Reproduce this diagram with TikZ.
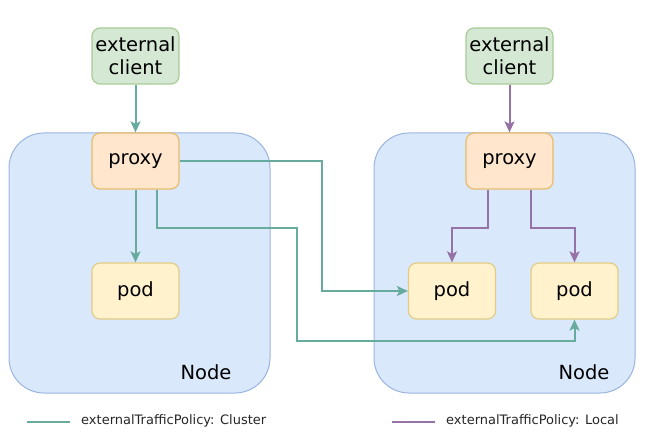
\documentclass[tikz,border=0pt]{standalone}
\usepackage{fontspec}
\setmainfont{DejaVu Sans}
\usetikzlibrary{arrows.meta}
\definecolor{clteal}{HTML}{67AB9F}
\definecolor{clpurple}{HTML}{9673A6}
\definecolor{nodefill}{HTML}{DAE8FC}
\definecolor{nodedraw}{HTML}{9AB4DE}
\definecolor{extfill}{HTML}{D5E8D4}
\definecolor{extdraw}{HTML}{A8CC96}
\definecolor{pxfill}{HTML}{FFE6CC}
\definecolor{pxdraw}{HTML}{E8BC6A}
\definecolor{podfill}{HTML}{FFF2CC}
\definecolor{poddraw}{HTML}{E3CC86}
\tikzset{
  hostbox/.style={draw=nodedraw, fill=nodefill, line width=1pt, rounded corners=35pt, minimum width=261pt, minimum height=260pt, inner sep=0pt},
  smallbox/.style={line width=1.2pt, rounded corners=8pt, minimum width=87pt, minimum height=56pt, inner sep=0pt, align=center, font=\fontsize{19.5}{23}\selectfont},
  extbox/.style={smallbox, draw=extdraw, fill=extfill},
  pxbox/.style={smallbox, draw=pxdraw, fill=pxfill},
  podbox/.style={smallbox, draw=poddraw, fill=podfill},
  hostlabel/.style={font=\fontsize{19.5}{22}\selectfont, inner sep=0pt},
  tealline/.style={draw=clteal, line width=2pt},
  purpline/.style={draw=clpurple, line width=2pt},
  tealarrow/.style={tealline, -{Stealth[length=11pt,width=10pt,inset=2.5pt]}},
  purparrow/.style={purpline, -{Stealth[length=11pt,width=10pt,inset=2.5pt]}},
  legendtext/.style={anchor=west, inner sep=0pt, font=\fontsize{13}{15}\selectfont, text=black!85}
}
\begin{document}
\begin{tikzpicture}[x=1pt, y=-1pt]
\useasboundingbox (0,0) rectangle (650,435);
% host nodes
\node[hostbox] (hostL) at (139.5,263) {};
\node[hostbox] (hostR) at (504.5,263) {};
\node[hostlabel] (labL) at (206,372) {Node};
\node[hostlabel] (labR) at (584,372) {Node};
% small boxes
\node[extbox] (c1) at (135.5,56) {external\\client};
\node[extbox] (c2) at (509.5,56) {external\\client};
\node[pxbox] (p1) at (135.5,161) {proxy};
\node[pxbox] (p2) at (509.5,161) {proxy};
\node[podbox] (pod1) at (135.5,291) {pod};
\node[podbox] (pod2) at (452,291) {pod};
\node[podbox] (pod3) at (574.5,291) {pod};
% cluster policy paths
\coordinate (t1) at (297,228);
\coordinate (t2) at (297,341);
\coordinate (t3) at (322,291);
\draw[tealarrow] (c1) -- (p1);
\draw[tealarrow] (p1) -- (pod1);
\draw[tealarrow] ([xshift=21.5pt]p1.south) |- (t1) -- (t2) -| (pod3.south);
\draw[tealarrow] (p1.east) -| (t3) -- (pod2.west);
% local policy paths
\draw[purparrow] (c2) -- (p2);
\draw[purparrow] ([xshift=-21.5pt]p2.south) -- ++(0,38) -| (pod2.north);
\draw[purparrow] ([xshift=21.5pt]p2.south) -- ++(0,38) -| (pod3.north);
% legend
\coordinate (la) at (27,422);
\coordinate (lb) at (70,422);
\coordinate (lc) at (392,422);
\coordinate (ld) at (435,422);
\draw[tealline] (la) -- (lb);
\draw[purpline] (lc) -- (ld);
\node[legendtext] (lt1) at (81,421) {externalTrafficPolicy: Cluster};
\node[legendtext] (lt2) at (446,421) {externalTrafficPolicy: Local};
\end{tikzpicture}
\end{document}
